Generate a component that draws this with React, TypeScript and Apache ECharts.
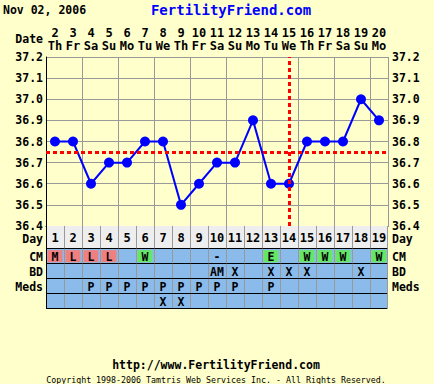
import React, { useEffect, useRef } from "react";
import * as echarts from "echarts";

const days = ["1","2","3","4","5","6","7","8","9","10","11","12","13","14","15","16","17","18","19"];
const dates = ["2","3","4","5","6","7","8","9","10","11","12","13","14","15","16","17","18","19","20"];
const weekdays = ["Th","Fr","Sa","Su","Mo","Tu","We","Th","Fr","Sa","Su","Mo","Tu","We","Th","Fr","Sa","Su","Mo"];
const temps = [36.8,36.8,36.6,36.7,36.7,36.8,36.8,36.5,36.6,36.7,36.7,36.9,36.6,36.6,36.8,36.8,36.8,37.0,36.9];
const coverline = 36.75;
const ovulationDay = "14";
const rowLabels = ["Day","CM","BD","Meds",""];
const cm = ["M","L","L","L","","W","","","","-","","","E","","W","W","W","","W"];
const bd = ["","","","","","","","","","AM","X","","X","X","X","","","X",""];
const meds = ["","","P","P","P","P","P","P","P","P","P","","P","","","","","",""];
const extra = ["","","","","","","X","X","","","","","","","","","","",""];

const FONT = '"DejaVu Sans Mono", monospace';
const RED = "#F08080";
const GREEN = "#66E666";
const BLUE = "#8BBBEB";
const GRAY_ROW = "#EEEEEE";
const BG = "#FFFFCC";
const cmColors: Record<string, string> = { M: RED, L: RED, W: GREEN, E: GREEN };
// row layout (units on table y axis)
const rowTop = [0, 1.5, 2.5, 3.5, 4.5];
const rowBot = [1.5, 2.5, 3.5, 4.5, 5.5];

export default function App() {
  const ref = useRef<HTMLDivElement>(null);
  useEffect(() => {
    if (!ref.current) return;
    const chart = echarts.init(ref.current, null, { renderer: "svg" });
    const rows = [days, cm, bd, meds, extra];
    const cells: any[] = [];
    rows.forEach((arr, r) => {
      arr.forEach((t, d) => {
        const fill = r === 1 ? cmColors[t] || "" : "";
        cells.push([d, r, t, fill]);
      });
    });
    const nDays = days.length;
    const renderCell = (params: any, api: any) => {
      const d = api.value(0);
      const r = api.value(1);
      const text = cells[params.dataIndex][2];
      const fill = cells[params.dataIndex][3];
      const w = api.size([1, 0])[0];
      const cx = api.coord([d, 0])[0];
      const y0 = api.coord([d, rowTop[r]])[1];
      const y1 = api.coord([d, rowBot[r]])[1];
      const x0 = cx - w / 2;
      const labelY = (y0 + y1) / 2 + (r === 0 ? 1.5 : 0.5);
      const children: any[] = [
        { type: "rect", shape: { x: x0, y: y0, width: w, height: y1 - y0 }, style: { fill: r === 0 ? GRAY_ROW : BLUE } },
      ];
      if (fill) {
        children.push({ type: "rect", shape: { x: x0 + 1.5, y: y0 + 1.5, width: w - 3, height: y1 - y0 - 3 }, style: { fill } });
      }
      if (text) {
        children.push({
          type: "text",
          style: { text, x: cx, y: (y0 + y1) / 2 + 0.5, align: "center", verticalAlign: "middle", fontFamily: FONT, fontWeight: "bold", fontSize: r === 0 ? 12 : 11.5, lineHeight: 12, fill: "#000" },
        });
      }
      if (d === 0 && rowLabels[r]) {
        children.push({
          type: "text",
          style: { text: rowLabels[r], x: x0 - 3, y: labelY, align: "right", verticalAlign: "middle", fontFamily: FONT, fontWeight: "bold", fontSize: 11.5, lineHeight: 12, fill: "#000" },
        });
      }
      if (d === nDays - 1 && rowLabels[r]) {
        children.push({
          type: "text",
          style: { text: rowLabels[r], x: x0 + w + 4, y: labelY, align: "left", verticalAlign: "middle", fontFamily: FONT, fontWeight: "bold", fontSize: 11.5, lineHeight: 12, fill: "#000" },
        });
      }
      return { type: "group", children };
    };
    const renderLines = (params: any, api: any) => {
      const d = api.value(0);
      const r = api.value(1);
      const w = api.size([1, 0])[0];
      const cx = api.coord([d, 0])[0];
      const y0 = api.coord([d, rowTop[r]])[1];
      const y1 = api.coord([d, rowBot[r]])[1];
      const xl = Math.round(cx - w / 2) + 0.5;
      const xr = Math.round(cx + w / 2) - 0.5;
      const yb = Math.round(y1) - 0.5;
      const children: any[] = [
        { type: "line", shape: { x1: xl, y1: y0, x2: xl, y2: y1 }, style: { stroke: d === 0 ? "#000" : "#999", lineWidth: 1 } },
        { type: "line", shape: { x1: cx - w / 2, y1: yb, x2: cx + w / 2, y2: yb }, style: { stroke: "#000", lineWidth: 1 } },
      ];
      if (d === nDays - 1) {
        children.push({ type: "line", shape: { x1: xr, y1: y0, x2: xr, y2: y1 }, style: { stroke: "#999", lineWidth: 1 } });
      }
      return { type: "group", children };
    };
    const yLabel = { fontFamily: FONT, fontWeight: "bold" as const, fontSize: 11.5, lineHeight: 12, color: "#000" };
    chart.setOption({
      animation: false,
      backgroundColor: BG,
      textStyle: { fontFamily: FONT },
      grid: [
        { left: 46, top: 57, width: 342, height: 169 },
        { left: 46, top: 226, width: 342, height: 83 },
      ],
      xAxis: [
        {
          gridIndex: 0, type: "category", data: days, position: "bottom", boundaryGap: true,
          axisLine: { show: true, lineStyle: { color: "#000", width: 1 } },
          axisTick: { show: false }, axisLabel: { show: false },
          splitLine: { show: true, lineStyle: { color: "#999", width: 1 } },
        },
        {
          gridIndex: 0, type: "category", data: dates, position: "top", boundaryGap: true,
          axisLine: { show: false }, axisTick: { show: false },
          axisLabel: {
            margin: 5, interval: 0,
            formatter: (v: string, i: number) => `{d|${v}}\n{w|${weekdays[i]}}`,
            rich: {
              d: { fontFamily: FONT, fontWeight: "bold", fontSize: 12, lineHeight: 13, color: "#000" },
              w: { fontFamily: FONT, fontWeight: "bold", fontSize: 12, lineHeight: 13, color: "#000" },
            },
          },
        },
        { gridIndex: 1, type: "category", data: days, boundaryGap: true, show: false },
      ],
      yAxis: [
        {
          gridIndex: 0, type: "value", min: 36.4, max: 37.2, interval: 0.1, position: "left",
          axisLine: { show: true, lineStyle: { color: "#000", width: 1 } }, axisTick: { show: false },
          axisLabel: { ...yLabel, margin: 3, formatter: (v: number) => v.toFixed(1) },
          splitLine: { show: true, lineStyle: { color: "#999", width: 1 } },
        },
        {
          gridIndex: 0, type: "value", min: 36.4, max: 37.2, interval: 0.1, position: "right",
          axisLine: { show: false }, axisTick: { show: false },
          axisLabel: { ...yLabel, margin: 4, formatter: (v: number) => v.toFixed(1) },
          splitLine: { show: false },
        },
        { gridIndex: 1, type: "value", min: 0, max: 5.5, inverse: true, show: false },
      ],
      series: [
        {
          type: "line", xAxisIndex: 0, yAxisIndex: 0, data: temps, z: 3,
          symbol: "circle", symbolSize: 10,
          lineStyle: { color: "#0000FF", width: 2 }, itemStyle: { color: "#0000FF" },
        },
        {
          type: "line", xAxisIndex: 0, yAxisIndex: 0, data: [], z: 5,
          markLine: {
            silent: true, symbol: "none", label: { show: false },
            lineStyle: { color: "#FF0000", width: 3, type: [4, 3] },
            data: [{ yAxis: coverline }, { xAxis: ovulationDay }],
          },
        },
        { type: "custom", xAxisIndex: 2, yAxisIndex: 2, data: cells, renderItem: renderCell, z: 2, clip: false },
        { type: "custom", xAxisIndex: 2, yAxisIndex: 2, data: cells, renderItem: renderLines, z: 3, clip: false },
      ],
      graphic: [
        { type: "text", left: 3, top: 4, style: { text: "Nov 02, 2006", fontFamily: FONT, fontWeight: "bold", fontSize: 11.5, fill: "#000" } },
        { type: "text", x: 231, y: 10, style: { text: "FertilityFriend.com", align: "center", verticalAlign: "middle", fontFamily: FONT, fontWeight: "bold", fontSize: 14, fill: "#0000FF" } },
        { type: "text", x: 43, y: 39, style: { text: "Date", align: "right", verticalAlign: "middle", fontFamily: FONT, fontWeight: "bold", fontSize: 11.5, fill: "#000" } },
        { type: "text", x: 216, y: 365, style: { text: "http://www.FertilityFriend.com", align: "center", verticalAlign: "middle", fontFamily: FONT, fontWeight: "bold", fontSize: 11.5, fill: "#000" } },
        { type: "text", x: 216, y: 380, style: { text: "Copyright 1998-2006 Tamtris Web Services Inc. - All Rights Reserved.", align: "center", verticalAlign: "middle", fontFamily: FONT, fontSize: 8.3, fill: "#000" } },
      ],
    });
    return () => chart.dispose();
  }, []);
  return <div ref={ref} style={{ position: "fixed", left: 0, top: 0, width: 434, height: 384 }} />;
}
